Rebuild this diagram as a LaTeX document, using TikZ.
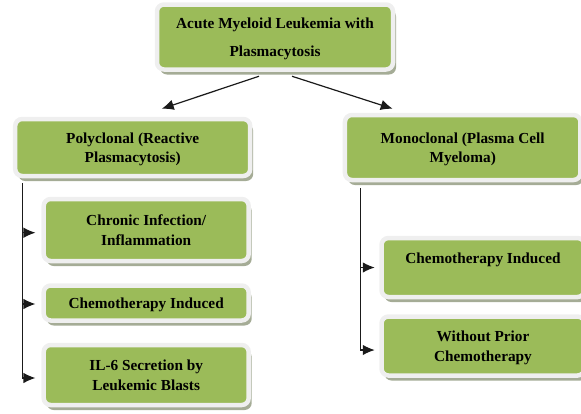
\documentclass[tikz,border=0pt]{standalone}
\usepackage{fontspec}
\setmainfont{Liberation Serif}
\usepackage{tikz}
\usetikzlibrary{arrows.meta,shadows}

\definecolor{boxgreen}{HTML}{9BBB59}
\definecolor{boxrim}{HTML}{EFEFEF}
\definecolor{boxshade}{RGB}{165,172,150}
\definecolor{wire}{HTML}{1A1A1A}

\tikzset{
  box/.style={rounded corners=7pt, fill=boxgreen, draw=boxrim, line width=4.5pt,
    inner sep=0pt, align=center, text=black, text depth=-2pt,
    font=\fontsize{15.3}{19.5}\selectfont\bfseries,
    drop shadow={shadow xshift=3pt, shadow yshift=-5pt, fill=boxshade, opacity=1}},
  wired/.style={draw=wire, line width=1.2pt}
}

\begin{document}
\begin{tikzpicture}[x=1pt,y=-1pt,>={Latex[length=12pt,width=10.5pt]}]
      \useasboundingbox (0,0) rectangle (581,413);
      \node[box, minimum width=236pt, minimum height=65pt] (aml) at (275,37) {Acute Myeloid Leukemia with\\[8pt]Plasmacytosis};
      \node[box, minimum width=235pt, minimum height=57pt] (poly) at (132.7,147.5) {Polyclonal (Reactive\\Plasmacytosis)};
      \node[box, minimum width=235.5pt, minimum height=65pt] (mono) at (462.7,147.5) {Monoclonal (Plasma Cell\\Myeloma)};
      \node[box, minimum width=205pt, minimum height=62pt] (chronic) at (146.2,230) {Chronic Infection/\\Inflammation};
      \node[box, minimum width=205pt, minimum height=35pt] (chemoL) at (146.2,303) {Chemotherapy Induced};
      \node[box, minimum width=205pt, minimum height=60pt] (ilsix) at (146.2,375) {IL-6 Secretion by\\Leukemic Blasts};
      \node[box, minimum width=203pt, minimum height=59pt] (chemoR) at (483,267.5) {Chemotherapy Induced\\\strut};
      \node[box, minimum width=203pt, minimum height=59pt] (noprior) at (483,346) {Without Prior\\Chemotherapy};
      % top split
      \draw[wired,->] ([xshift=-16pt,yshift=-4.5pt]aml.south) -- ([xshift=29pt,yshift=8pt]poly.north);
      \draw[wired,->] ([xshift=17pt,yshift=-4.5pt]aml.south) -- ([xshift=-70pt,yshift=4pt]mono.north);
      % left branch
      \coordinate (ltrunk) at ([xshift=-110pt,yshift=-5pt]poly.south);
      \draw[wired,->] (ltrunk) |- ([xshift=-6pt,yshift=-2.7pt]chronic.west);
      \draw[wired,->] (ltrunk) |- ([xshift=-6pt,yshift=-1pt]chemoL.west);
      \draw[wired,->] (ltrunk) |- ([xshift=-6pt,yshift=-3pt]ilsix.west);
      % right branch
      \coordinate (rtrunk) at ([xshift=-102pt,yshift=-6pt]mono.south);
      \draw[wired,->] (rtrunk) |- ([xshift=-4.5pt]chemoR.west);
      \draw[wired,->] (rtrunk) |- ([xshift=-4.5pt,yshift=-4pt]noprior.west);
   \end{tikzpicture}
\end{document}
